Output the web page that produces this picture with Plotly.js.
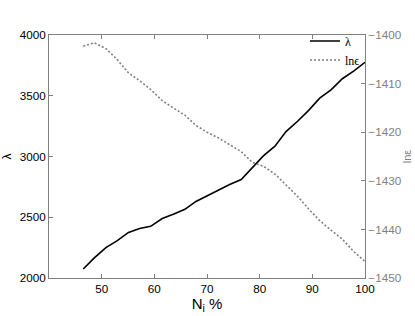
<!DOCTYPE html>
<html>
<head>
<meta charset="utf-8">
<script src="https://cdn.plot.ly/plotly-3.0.1.min.js"></script>
<style>html,body{margin:0;padding:0;background:#fff;}#chart{width:415px;height:316px;}</style>
</head>
<body>
<div id="chart"></div>
<script>
var niPercent = [46.5, 48.6, 50.8, 52.9, 55.1, 57.2, 59.3, 61.5, 63.6, 65.8, 67.9, 70.0, 72.2, 74.3, 76.5, 78.6, 80.7, 82.9, 85.0, 87.2, 89.3, 91.4, 93.6, 95.7, 97.9, 100];
var lambdaVals = [2074, 2165, 2250, 2305, 2375, 2408, 2425, 2490, 2525, 2565, 2630, 2675, 2725, 2770, 2810, 2910, 3005, 3085, 3205, 3290, 3380, 3480, 3550, 3640, 3705, 3775];
var lnEpsVals = [-1402.3, -1401.6, -1402.8, -1405.0, -1407.8, -1409.4, -1411.2, -1413.5, -1415.0, -1416.5, -1418.6, -1420.0, -1421.2, -1422.6, -1424.0, -1426.2, -1427.0, -1428.6, -1430.8, -1433.2, -1435.8, -1438.2, -1440.2, -1442.0, -1444.6, -1446.6];
var xTicks = [50, 60, 70, 80, 90, 100];
var yTicks = [2000, 2500, 3000, 3500, 4000];
var y2Ticks = [-1450, -1440, -1430, -1420, -1410, -1400];

var gray = '#808080';
var traces = [
  {x: niPercent, y: lambdaVals, type: 'scatter', mode: 'lines', name: 'λ',
   line: {color: '#000', width: 1.6}, yaxis: 'y'},
  {x: niPercent, y: lnEpsVals, type: 'scatter', mode: 'lines', name: 'lnϵ',
   line: {color: gray, width: 1.6, dash: '2px,2px'}, yaxis: 'y2'}
];
var tickFont = {family: 'Liberation Sans, Arial, sans-serif', size: 11.7, color: '#000'};
var layout = {
  width: 415, height: 316,
  margin: {l: 49, r: 50, t: 35, b: 38},
  paper_bgcolor: '#fff', plot_bgcolor: '#fff',
  showlegend: true,
  legend: {x: 1, xanchor: 'right', y: 1.035, yanchor: 'top', bgcolor: 'rgba(255,255,255,0)',
           borderwidth: 0,
           font: {family: 'Liberation Serif, Times New Roman, serif', size: 12, color: '#000'},
           itemwidth: 30, tracegroupgap: 0},
  xaxis: {range: [40, 100], tickvals: xTicks, ticks: 'inside', ticklen: 4, tickcolor: gray,
          showline: true, linecolor: gray, linewidth: 1, mirror: 'ticks', showgrid: false,
          zeroline: false, tickfont: tickFont,
          title: {text: 'N<sub>i</sub> %', font: {family: 'Liberation Sans, Arial, sans-serif', size: 15, color: '#000'}, standoff: 4}},
  yaxis: {range: [2000, 4000], tickvals: yTicks, ticks: 'inside', ticklen: 4, tickcolor: gray,
          showline: true, linecolor: gray, linewidth: 1, showgrid: false, zeroline: false,
          tickfont: tickFont,
          title: {text: 'λ', font: {family: 'Liberation Sans, Arial, sans-serif', size: 12, color: '#000'}, standoff: 6}},
  yaxis2: {range: [-1450, -1400], tickvals: y2Ticks, overlaying: 'y', side: 'right',
           ticks: 'inside', ticklen: 4, tickcolor: gray, showline: true, linecolor: gray, linewidth: 1,
           showgrid: false, zeroline: false,
           tickfont: {family: 'Liberation Sans, Arial, sans-serif', size: 11.7, color: gray},
           title: {text: 'lnε', font: {family: 'Liberation Sans, Arial, sans-serif', size: 11, color: gray}, standoff: 2}}
};
Plotly.newPlot('chart', traces, layout, {displayModeBar: false, staticPlot: true});
</script>
</body>
</html>
